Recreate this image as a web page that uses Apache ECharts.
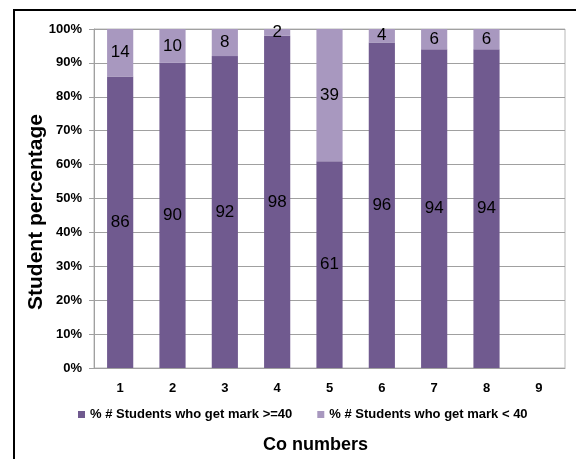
<!DOCTYPE html>
<html>
<head>
<meta charset="utf-8">
<script src="https://cdn.jsdelivr.net/npm/echarts@6/dist/echarts.min.js"></script>
<style>
  html, body { margin: 0; padding: 0; background: #fff; }
  #chart { width: 576px; height: 459px; }
  #frame { position: absolute; left: 13px; top: 9px; width: 600px; height: 500px;
           border-left: 2px solid #000; border-top: 2px solid #000; pointer-events: none; }
</style>
</head>
<body>
<div id="chart"></div>
<div id="frame"></div>
<script>
// Course outcome numbers and pass/fail shares (percent of students)
const coNumbers = ['1', '2', '3', '4', '5', '6', '7', '8', '9'];
const passShare = [86, 90, 92, 98, 61, 96, 94, 94, null];
const failShare = [14, 10, 8, 2, 39, 4, 6, 6, null];
const yTicks = [0, 10, 20, 30, 40, 50, 60, 70, 80, 90, 100];

const narrow = '"Liberation Sans Narrow", "Liberation Sans", Arial, sans-serif';
const regular = '"Liberation Sans", Arial, sans-serif';

const chart = echarts.init(document.getElementById('chart'), null, { renderer: 'canvas' });

const segLabel = {
  show: true,
  position: 'inside',
  color: '#000',
  fontFamily: regular,
  fontSize: 17,
  formatter: p => (p.value == null ? '' : String(p.value))
};

chart.setOption({
  animation: false,
  grid: {
    left: 94, right: 11, top: 29, bottom: 91,
    show: true, borderColor: '#b8b8b8', borderWidth: 1
  },
  legend: {
    data: ['% # Students who get mark >=40', '% # Students who get mark < 40'],
    left: 73, top: 403,
    itemWidth: 7, itemHeight: 7, itemGap: 25,
    icon: 'rect',
    textStyle: { fontFamily: narrow, fontWeight: 'bold', fontSize: 13, color: '#000' }
  },
  graphic: [
    {
      type: 'text',
      x: 36, y: 212,
      rotation: Math.PI / 2,
      style: {
        text: 'Student percentage',
        fontFamily: regular, fontWeight: 'bold', fontSize: 21, fill: '#000',
        align: 'center', verticalAlign: 'middle'
      }
    }
  ],
  xAxis: {
    type: 'category',
    data: coNumbers,
    axisLine: { lineStyle: { color: '#a0a0a0' } },
    axisTick: { show: false },
    axisLabel: { fontFamily: narrow, fontWeight: 'bold', fontSize: 13, color: '#000', margin: 14 },
    name: 'Co numbers',
    nameLocation: 'middle',
    nameGap: 68,
    nameTextStyle: { fontFamily: regular, fontWeight: 'bold', fontSize: 18, color: '#000', padding: [0, 28, 0, 0] }
  },
  yAxis: {
    type: 'value',
    min: yTicks[0], max: yTicks[yTicks.length - 1], interval: 10,
    axisLine: { show: true, lineStyle: { color: '#a0a0a0' } },
    axisTick: { show: true, length: 5, lineStyle: { color: '#a0a0a0' } },
    splitLine: { lineStyle: { color: '#a0a0a0' } },
    axisLabel: { fontFamily: narrow, fontWeight: 'bold', fontSize: 13, color: '#000', margin: 12,
                 formatter: v => v + '%' }
  },
  series: [
    {
      name: '% # Students who get mark >=40',
      type: 'bar', stack: 'share', barWidth: '50%',
      data: passShare,
      itemStyle: { color: '#705a8f' },
      label: segLabel
    },
    {
      name: '% # Students who get mark < 40',
      type: 'bar', stack: 'share', barWidth: '50%',
      data: failShare,
      itemStyle: { color: '#a898bf' },
      label: segLabel
    }
  ]
});
</script>
</body>
</html>
